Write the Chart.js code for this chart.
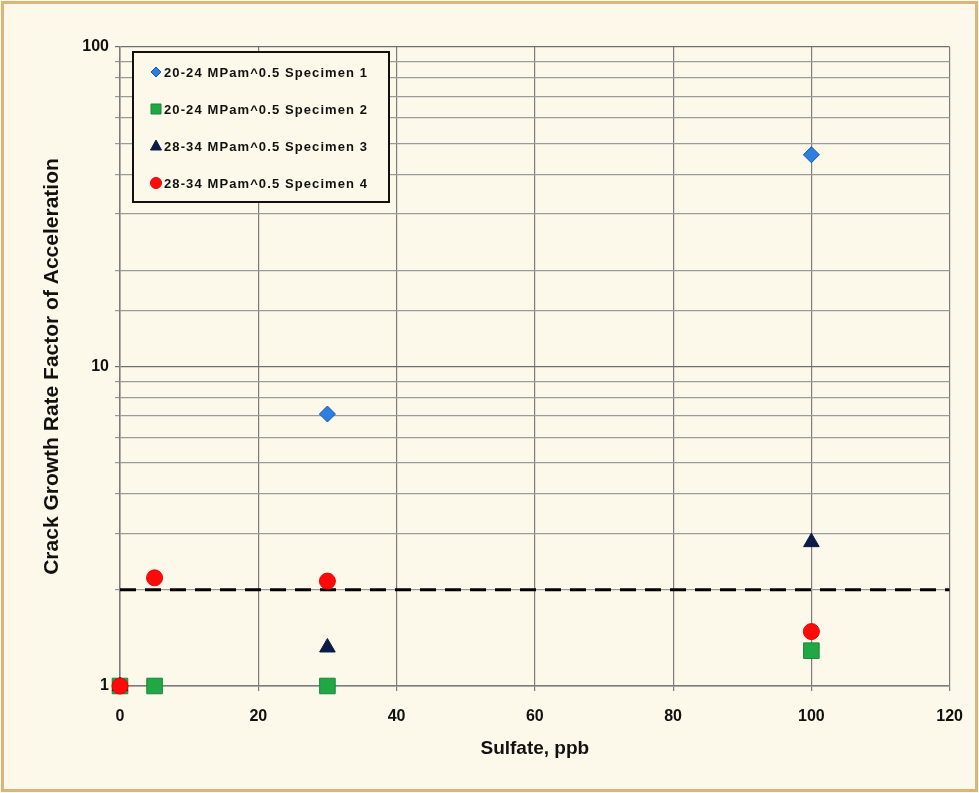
<!DOCTYPE html>
<html>
<head>
<meta charset="utf-8">
<script src="https://cdn.jsdelivr.net/npm/chart.js@4/dist/chart.umd.min.js"></script>
<style>
  html, body { margin: 0; padding: 0; background: #fcf8ea; }
  #wrap { width: 979px; height: 793px; }
</style>
</head>
<body>
<div id="wrap"><canvas id="c" width="979" height="793"></canvas></div>
<script>
// sulfate (ppb) and acceleration factor per specimen
const spec1X = [0, 30, 100]
const spec1Y = [1, 7.1, 46]
const spec2X = [0, 5, 30, 100]
const spec2Y = [1, 1, 1, 1.29]
const spec3X = [0, 30, 100]
const spec3Y = [1, 1.32, 2.82]
const spec4X = [0, 5, 30, 100]
const spec4Y = [1, 2.18, 2.13, 1.48]
const thresholdX = [0, 120]
const thresholdY = [2, 2]
const seriesNames = [
    '20-24 MPam^0.5 Specimen 1',
    '20-24 MPam^0.5 Specimen 2',
    '28-34 MPam^0.5 Specimen 3',
    '28-34 MPam^0.5 Specimen 4'
]
const yTickLabels = [1, 10, 100]

const pts = (xs, ys) => xs.map((x, i) => ({ x: x, y: ys[i] }))
const FONT = '"Liberation Sans", Arial, sans-serif'

const backdrop = {
    id: 'backdrop',
    beforeDraw(chart) {
        const c = chart.ctx
        c.save()
        c.fillStyle = '#fcf8ea'
        c.fillRect(0, 0, chart.width, chart.height)
        c.strokeStyle = '#d9b57c'
        c.lineWidth = 3
        c.strokeRect(2.5, 2.5, chart.width - 5, chart.height - 5)
        c.restore()
    }
}

// legend box drawn inside the plot, top-left
const boxLegend = {
    id: 'boxLegend',
    afterDraw(chart) {
        const c = chart.ctx
        const x0 = 133, y0 = 52, w = 256, h = 150
        c.save()
        c.fillStyle = '#fcf8ea'
        c.fillRect(x0, y0, w, h)
        c.strokeStyle = '#111'
        c.lineWidth = 2
        c.strokeRect(x0, y0, w, h)
        c.font = 'bold 13px ' + FONT
        c.letterSpacing = '1.1px'
        c.textBaseline = 'middle'
        const rows = [72, 109, 146, 183]
        for (let i = 0; i < 4; i++) {
            const ds = chart.data.datasets[i]
            const y = rows[i]
            c.fillStyle = ds.backgroundColor
            c.strokeStyle = ds.borderColor
            c.lineWidth = 1
            const mx = 156
            c.beginPath()
            if (ds.pointStyle === 'rectRot') {
                c.moveTo(mx, y - 5); c.lineTo(mx + 5, y); c.lineTo(mx, y + 5); c.lineTo(mx - 5, y)
            } else if (ds.pointStyle === 'rect') {
                c.rect(mx - 5, y - 5, 10, 10)
            } else if (ds.pointStyle === 'triangle') {
                c.moveTo(mx, y - 6); c.lineTo(mx + 5.5, y + 4); c.lineTo(mx - 5.5, y + 4)
            } else {
                c.arc(mx, y, 5.5, 0, Math.PI * 2)
            }
            c.closePath()
            c.fill()
            c.stroke()
            c.fillStyle = '#111'
            c.fillText(seriesNames[i], 164, y + 1)
        }
        c.restore()
    }
}

new Chart(document.getElementById('c').getContext('2d'), {
    type: 'scatter',
    data: {
        datasets: [
            {
                label: seriesNames[0],
                data: pts(spec1X, spec1Y),
                pointStyle: 'rectRot',
                pointRadius: 8,
                backgroundColor: '#2f7fe0',
                borderColor: '#1556b8',
                borderWidth: 1,
                clip: false,
                order: 4
            },
            {
                label: seriesNames[1],
                data: pts(spec2X, spec2Y),
                pointStyle: 'rect',
                pointRadius: 11,
                backgroundColor: '#1fa843',
                borderColor: '#16873a',
                borderWidth: 1,
                clip: false,
                order: 3
            },
            {
                label: seriesNames[2],
                data: pts(spec3X, spec3Y),
                pointStyle: 'triangle',
                pointRadius: 9,
                backgroundColor: '#0b1b4a',
                borderColor: '#0b1b4a',
                borderWidth: 1,
                clip: false,
                order: 2
            },
            {
                label: seriesNames[3],
                data: pts(spec4X, spec4Y),
                pointStyle: 'circle',
                pointRadius: 8,
                backgroundColor: '#ff0a0a',
                borderColor: '#ee0000',
                borderWidth: 1,
                clip: false,
                order: 1
            },
            {
                type: 'line',
                label: 'threshold',
                data: pts(thresholdX, thresholdY),
                borderColor: '#000',
                borderWidth: 3,
                borderDash: [16, 9],
                pointRadius: 0,
                order: 10
            }
        ]
    },
    options: {
        responsive: false,
        animation: false,
        layout: { padding: { top: 47, right: 29, left: 40, bottom: 33 } },
        plugins: {
            legend: { display: false },
            tooltip: { enabled: false }
        },
        scales: {
            x: {
                type: 'linear',
                min: 0,
                max: 120,
                ticks: {
                    stepSize: 20,
                    color: '#111',
                    font: { family: FONT, size: 16, weight: 'bold' },
                    padding: 16
                },
                grid: { color: '#7d7d7d', lineWidth: 1.2, tickLength: 5 },
                border: { color: '#7d7d7d', width: 1.5 },
                title: {
                    display: true,
                    text: 'Sulfate, ppb',
                    color: '#111',
                    font: { family: FONT, size: 19, weight: 'bold' },
                    padding: { top: 0, bottom: 0 }
                },
                afterFit(s) { s.height = 74 }
            },
            y: {
                type: 'logarithmic',
                min: 1,
                max: 100,
                ticks: {
                    color: '#111',
                    font: { family: FONT, size: 16, weight: 'bold' },
                    autoSkip: false,
                    padding: 6,
                    callback: (v) => yTickLabels.includes(v) ? String(v) : ''
                },
                grid: {
                    color: (ctx) => yTickLabels.includes(ctx.tick && ctx.tick.value) ? '#6f6f6f' : '#9a9a9a',
                    lineWidth: 1.2,
                    tickLength: 5
                },
                border: { color: '#7d7d7d', width: 1.5 },
                title: {
                    display: true,
                    text: 'Crack Growth Rate Factor of Acceleration',
                    color: '#111',
                    font: { family: FONT, size: 21, weight: 'bold' },
                    padding: { top: 0, bottom: 0 }
                },
                afterFit(s) { s.width = 80 }
            }
        }
    },
    plugins: [backdrop, boxLegend]
})
</script>
</body>
</html>
